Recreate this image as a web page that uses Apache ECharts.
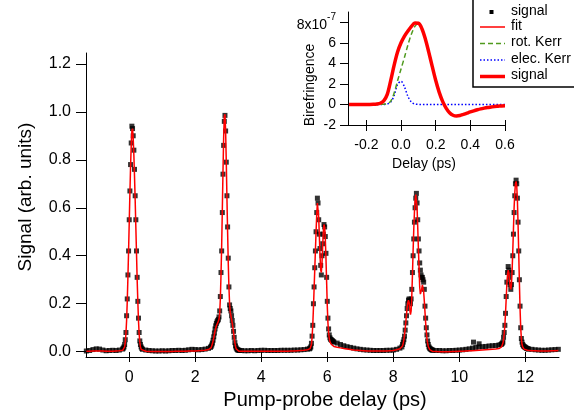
<!DOCTYPE html>
<html>
<head>
<meta charset="utf-8">
<script src="https://cdn.jsdelivr.net/npm/echarts@6/dist/echarts.min.js"></script>
<style>
html,body{margin:0;padding:0;background:#fff;}
#c{width:574px;height:417px;}
</style>
</head>
<body>
<div id="c"></div>
<script>
// ---------- main chart data (pump-probe delay in ps, signal in arb. units) ----------
const BASE_STEP = 0.1;   // sampling step of the flat stretches
const PEAK_STEP = 0.02;  // sampling step around the revivals

// measured signal (black squares)
const signalBase1Start = -1.3;
const signalBase1 = [0.003,0.005,0.009,0.012,0.011,0.007,0.004,0.005,0.006,0.005,0.007,0.011];
const signalPeak1Start = -0.18;
const signalPeak1 = [0.015,0.02,0.03,0.05,0.08,0.15,0.22,0.32,0.42,0.55,0.67,0.78,0.87,0.94,0.93,0.90,0.84,0.76,0.65,0.55,0.42,0.31,0.21,0.14,0.08,0.045,0.03,0.02,0.014,0.01];
const signalBase2Start = 0.5;
const signalBase2 = [0.007,0.005,0.004,0.003,0.003,0.004,0.003,0.004,0.005,0.005,0.006,0.005,0.006,0.008,0.01,0.009,0.008,0.009,0.011,0.014];
const signalPeak2Start = 2.46;
const signalPeak2 = [0.018,0.022,0.028,0.036,0.048,0.062,0.078,0.095,0.108,0.118,0.125,0.13,0.135,0.145,0.17,0.23,0.33,0.42,0.58,0.74,0.86,0.96,0.985,0.92,0.79,0.65,0.52,0.39,0.27,0.195,0.18,0.17,0.15,0.13,0.11,0.085,0.06,0.038,0.024,0.016,0.011,0.008,0.007,0.006,0.005];
const signalBase3Start = 3.4;
const signalBase3 = [0.005,0.004,0.004,0.005,0.004,0.005,0.006,0.006,0.005,0.005,0.005,0.005,0.006,0.006,0.006,0.006,0.007,0.007,0.008,0.009,0.011];
const signalPeak3Start = 5.46;
const signalPeak3 = [0.012,0.015,0.02,0.035,0.065,0.11,0.2,0.27,0.35,0.42,0.5,0.58,0.64,0.62,0.55,0.49,0.43,0.36,0.32,0.40,0.45,0.49,0.53,0.52,0.48,0.41,0.31,0.21,0.14,0.095,0.07,0.058,0.052,0.05,0.047,0.045,0.042,0.04];
const signalBase4Start = 6.3;
const signalBase4 = [0.036,0.03,0.025,0.021,0.018,0.015,0.012,0.01,0.008,0.007,0.006,0.005,0.005,0.005,0.005,0.006,0.006,0.007,0.01,0.015];
const signalPeak4Start = 8.26;
const signalPeak4 = [0.02,0.03,0.04,0.05,0.065,0.09,0.12,0.15,0.18,0.2,0.215,0.22,0.21,0.2,0.22,0.26,0.33,0.40,0.47,0.54,0.6,0.64,0.66,0.62,0.55,0.47,0.42,0.37,0.34,0.32,0.31,0.31,0.30,0.29,0.26,0.19,0.14,0.10,0.07,0.045,0.03,0.02,0.015,0.012,0.01,0.008,0.007,0.006];
const signalBase5Start = 9.3;
const signalBase5 = [0.005,0.005,0.004,0.004,0.005,0.005,0.006,0.007,0.008,0.01,0.012,0.015,0.018,0.02,0.021,0.022,0.024,0.025,0.026,0.028];
const signalOutliers = [[10.43,0.04],[10.6,0.033]];
const signalPeak5Start = 11.26;
const signalPeak5 = [0.03,0.032,0.035,0.04,0.06,0.08,0.11,0.16,0.23,0.29,0.33,0.355,0.34,0.31,0.28,0.26,0.28,0.33,0.40,0.49,0.58,0.65,0.70,0.715,0.70,0.64,0.54,0.42,0.30,0.19,0.10,0.055,0.04,0.03,0.025,0.022,0.02,0.018,0.016,0.014,0.013,0.012,0.011];
const signalBase6Start = 12.2;
const signalBase6 = [0.01,0.008,0.007,0.006,0.006,0.007,0.008,0.009,0.01];

// fit (red line), same delay grid
const fitBase1 = [0.002,0.002,0.003,0.003,0.003,0.003,0.002,0.002,0.002,0.003,0.004,0.006];
const fitPeak1 = [0.008,0.012,0.02,0.04,0.075,0.13,0.21,0.31,0.42,0.54,0.66,0.77,0.86,0.92,0.93,0.89,0.82,0.73,0.63,0.52,0.41,0.30,0.21,0.13,0.075,0.04,0.02,0.01,0.005,0.003];
const fitBase2 = [0.002,0.001,0.001,0.001,0.001,0.001,0.001,0.001,0.001,0.002,0.002,0.002,0.002,0.003,0.003,0.003,0.004,0.005,0.006,0.009];
const fitPeak2 = [0.012,0.017,0.024,0.033,0.045,0.058,0.072,0.086,0.098,0.108,0.115,0.12,0.125,0.135,0.16,0.22,0.32,0.44,0.59,0.75,0.89,0.98,0.99,0.92,0.79,0.64,0.5,0.37,0.27,0.2,0.165,0.15,0.135,0.12,0.1,0.08,0.058,0.038,0.022,0.012,0.007,0.004,0.003,0.002,0.002];
const fitBase3 = [0.002,0.002,0.002,0.002,0.002,0.002,0.002,0.002,0.002,0.002,0.002,0.002,0.002,0.002,0.002,0.003,0.003,0.004,0.005,0.006,0.008];
const fitPeak3 = [0.01,0.013,0.018,0.03,0.06,0.11,0.18,0.26,0.34,0.42,0.5,0.57,0.62,0.62,0.56,0.48,0.4,0.34,0.33,0.37,0.44,0.5,0.53,0.52,0.47,0.39,0.29,0.19,0.12,0.08,0.055,0.042,0.035,0.031,0.028,0.026,0.024,0.022];
const fitBase4 = [0.019,0.016,0.013,0.011,0.009,0.007,0.006,0.005,0.004,0.003,0.003,0.003,0.003,0.003,0.003,0.003,0.004,0.005,0.008,0.012];
const fitPeak4 = [0.016,0.024,0.035,0.05,0.07,0.095,0.125,0.155,0.185,0.205,0.215,0.205,0.175,0.155,0.17,0.23,0.32,0.42,0.51,0.58,0.63,0.655,0.65,0.6,0.52,0.43,0.35,0.27,0.24,0.24,0.26,0.278,0.275,0.25,0.21,0.165,0.12,0.085,0.055,0.035,0.022,0.014,0.009,0.006,0.004,0.003,0.002,0.002];
const fitBase5 = [0.001,0.0,0.0,0.0,0.0,0.001,0.001,0.002,0.002,0.003,0.004,0.004,0.005,0.006,0.007,0.008,0.009,0.01,0.011,0.013];
const fitPeak5 = [0.016,0.02,0.026,0.035,0.05,0.075,0.11,0.16,0.22,0.28,0.32,0.34,0.33,0.3,0.27,0.26,0.28,0.34,0.42,0.51,0.6,0.66,0.7,0.71,0.69,0.63,0.53,0.41,0.29,0.18,0.1,0.055,0.03,0.02,0.014,0.011,0.009,0.008,0.007,0.006,0.006,0.005,0.005];
const fitBase6 = [0.004,0.004,0.003,0.003,0.003,0.003,0.004,0.004,0.005];

const mainXTicks = [0,2,4,6,8,10,12];
const mainYTicks = [0,0.2,0.4,0.6,0.8,1.0,1.2];

// ---------- inset data (delay in ps, birefringence in 1e-7) ----------
const insetStart = -0.3;
const insetStep = 0.02;
const insetSignal = [0,0,0,0,0,0,0,0.01,0.04,0.12,0.35,0.95,2.3,3.8,5.1,6.0,6.65,7.15,7.6,7.92,7.9,7.4,6.4,5.1,3.7,2.35,1.2,0.3,-0.35,-0.8,-1.05,-1.12,-1.08,-0.97,-0.85,-0.73,-0.62,-0.52,-0.43,-0.36,-0.3,-0.25,-0.2,-0.17,-0.14,-0.12];
const insetRotKerr = [0,0,0,0,0,0,0,0,0,0.01,0.03,0.08,0.3,1.1,2.3,3.45,4.6,5.8,6.85,7.6,7.85,7.4,6.4,5.1,3.7,2.35,1.2,0.3,-0.35,-0.8,-1.05,-1.12,-1.08,-0.97,-0.85,-0.73,-0.62,-0.52,-0.43,-0.36,-0.3,-0.25,-0.2,-0.17,-0.14,-0.12];
const insetElecKerr = [0,0,0,0,0,0,0,0,0,0,0.005,0.04,0.22,0.85,1.95,2.25,1.7,0.78,0.22,0.04,0.005,0,0,0,0,0,0,0,0,0,0,0,0,0,0,0,0,0,0,0,0,0,0,0,0,0];
const insetXTicks = [-0.2,0,0.2,0.4,0.6];
const insetYTicks = [-2,0,2,4,6,8];

const legendLabels = ['signal','fit','rot. Kerr','elec. Kerr','signal'];

// ---------- helpers ----------
function seg(start, step, vals){ return vals.map((v,i)=>[+(start+i*step).toFixed(4), v]); }

const signalData = [].concat(
  seg(signalBase1Start, BASE_STEP, signalBase1),
  seg(signalPeak1Start, PEAK_STEP, signalPeak1),
  seg(signalBase2Start, BASE_STEP, signalBase2),
  seg(signalPeak2Start, PEAK_STEP, signalPeak2),
  seg(signalBase3Start, BASE_STEP, signalBase3),
  seg(signalPeak3Start, PEAK_STEP, signalPeak3),
  seg(signalBase4Start, BASE_STEP, signalBase4),
  seg(signalPeak4Start, PEAK_STEP, signalPeak4),
  seg(signalBase5Start, BASE_STEP, signalBase5),
  signalOutliers,
  seg(signalPeak5Start, PEAK_STEP, signalPeak5),
  seg(signalBase6Start, BASE_STEP, signalBase6)
);
const fitData = [].concat(
  seg(signalBase1Start, BASE_STEP, fitBase1),
  seg(signalPeak1Start, PEAK_STEP, fitPeak1),
  seg(signalBase2Start, BASE_STEP, fitBase2),
  seg(signalPeak2Start, PEAK_STEP, fitPeak2),
  seg(signalBase3Start, BASE_STEP, fitBase3),
  seg(signalPeak3Start, PEAK_STEP, fitPeak3),
  seg(signalBase4Start, BASE_STEP, fitBase4),
  seg(signalPeak4Start, PEAK_STEP, fitPeak4),
  seg(signalBase5Start, BASE_STEP, fitBase5),
  seg(signalPeak5Start, PEAK_STEP, fitPeak5),
  seg(signalBase6Start, BASE_STEP, fitBase6)
);

const FONT = '"Liberation Sans", Arial, Helvetica, sans-serif';
const chart = echarts.init(document.getElementById('c'), null, {renderer:'canvas'});

const axLine = {show:true, onZero:false, lineStyle:{color:'#000', width:1}};
const noLine = {show:false, onZero:false};
const tickStyle = {color:'#000', width:1};

const legendRowsY = [12, 27, 43.5, 60, 76.5];
const legendSamples = [
  {type:'rect', shape:{x:489.5, y:legendRowsY[0]-2, width:4, height:4}, style:{fill:'#000'}},
  {type:'line', shape:{x1:480, y1:legendRowsY[1], x2:505, y2:legendRowsY[1]}, style:{stroke:'#ff0000', lineWidth:1.5}},
  {type:'line', shape:{x1:480, y1:legendRowsY[2], x2:505, y2:legendRowsY[2]}, style:{stroke:'#4f9a1e', lineWidth:1.5, lineDash:[5,3]}},
  {type:'line', shape:{x1:480, y1:legendRowsY[3], x2:505, y2:legendRowsY[3]}, style:{stroke:'#0000ff', lineWidth:1.5, lineDash:[1.5,2]}},
  {type:'line', shape:{x1:480, y1:legendRowsY[4], x2:505, y2:legendRowsY[4]}, style:{stroke:'#ff0000', lineWidth:3.5}}
];
const legendTexts = legendLabels.map((t,i)=>({
  type:'text', left:511, top:legendRowsY[i]-8,
  style:{text:t, font:'14px ' + FONT, fill:'#000'}
}));

const option = {
  animation:false,
  backgroundColor:'#fff',
  textStyle:{fontFamily:FONT, color:'#000'},
  grid:[
    {left:86, right:15, top:53, bottom:60},
    {left:348, right:69, top:12, bottom:292}
  ],
  xAxis:[
    {gridIndex:0, type:'value', min:-1.31, max:13.02, position:'bottom',
     axisLine:axLine, splitLine:{show:false},
     axisTick:{show:true, inside:false, length:5, lineStyle:tickStyle, customValues:mainXTicks},
     axisLabel:{show:true, customValues:mainXTicks, fontSize:16, color:'#000', margin:13, fontFamily:FONT},
     name:'Pump-probe delay (ps)', nameLocation:'middle', nameGap:33, nameMoveOverlap:false,
     nameTextStyle:{fontSize:20, color:'#000', fontFamily:FONT, padding:[0,0,0,5]}},
    {gridIndex:0, type:'value', min:-1.31, max:13.02, position:'bottom',
     axisLine:noLine, splitLine:{show:false}, axisLabel:{show:false},
     axisTick:{show:true, inside:true, length:5, lineStyle:tickStyle, customValues:mainXTicks}},
    {gridIndex:1, type:'value', min:-0.306, max:0.6, position:'bottom',
     axisLine:axLine, splitLine:{show:false},
     axisTick:{show:true, inside:false, length:6, lineStyle:tickStyle, customValues:insetXTicks},
     axisLabel:{show:true, customValues:insetXTicks, fontSize:14, color:'#000', margin:13, fontFamily:FONT,
       formatter:v=>(+v).toFixed(1)},
     name:'Delay (ps)', nameLocation:'middle', nameGap:32, nameMoveOverlap:false,
     nameTextStyle:{fontSize:14, color:'#000', fontFamily:FONT, padding:[0,5,0,0]}},
    {gridIndex:1, type:'value', min:-0.306, max:0.6, position:'bottom',
     axisLine:noLine, splitLine:{show:false}, axisLabel:{show:false},
     axisTick:{show:true, inside:true, length:5, lineStyle:tickStyle, customValues:insetXTicks}}
  ],
  yAxis:[
    {gridIndex:0, type:'value', min:-0.022, max:1.245, position:'left',
     axisLine:axLine, splitLine:{show:false},
     axisTick:{show:true, inside:false, length:10, lineStyle:tickStyle, customValues:mainYTicks},
     axisLabel:{show:true, customValues:mainYTicks, fontSize:16, color:'#000', margin:15, fontFamily:FONT,
       formatter:v=>(+v).toFixed(1)},
     name:'Signal (arb. units)', nameLocation:'middle', nameGap:51, nameMoveOverlap:false,
     nameTextStyle:{fontSize:19, color:'#000', fontFamily:FONT, padding:[0,0,0,16]}},
    {gridIndex:1, type:'value', min:-2, max:9, position:'left',
     axisLine:axLine, splitLine:{show:false},
     axisTick:{show:true, inside:false, length:8, lineStyle:tickStyle, customValues:insetYTicks},
     axisLabel:{show:true, customValues:insetYTicks, fontSize:14, color:'#000', margin:12, fontFamily:FONT,
       formatter:v=> (+v===8 ? '{b|8x10}{s|-7}' : String(+v)),
       rich:{b:{fontSize:14, fontFamily:FONT, color:'#000', lineHeight:20, verticalAlign:'bottom'},
             s:{fontSize:10, fontFamily:FONT, color:'#000', lineHeight:12, verticalAlign:'top'}}},
     name:'Birefringence', nameLocation:'middle', nameGap:31, nameMoveOverlap:false,
     nameTextStyle:{fontSize:14, color:'#000', fontFamily:FONT, padding:[0,33,0,0]}}
  ],
  series:[
    {type:'scatter', name:'signal', xAxisIndex:0, yAxisIndex:0, symbol:'rect', symbolSize:5,
     itemStyle:{color:'#000'}, data:signalData, silent:true, z:2},
    {type:'line', name:'fit', xAxisIndex:0, yAxisIndex:0, showSymbol:false, symbol:'none',
     lineStyle:{color:'#ff0000', width:1.5}, data:fitData, silent:true, z:3},
    {type:'line', name:'elec. Kerr', xAxisIndex:2, yAxisIndex:1, showSymbol:false, symbol:'none', smooth:0.3,
     lineStyle:{color:'#0000ff', width:1.5, type:[1.5,2]}, data:seg(insetStart, insetStep, insetElecKerr), silent:true, z:2},
    {type:'line', name:'rot. Kerr', xAxisIndex:2, yAxisIndex:1, showSymbol:false, symbol:'none', smooth:0.3,
     lineStyle:{color:'#4f9a1e', width:1.5, type:[5,3]}, data:seg(insetStart, insetStep, insetRotKerr), silent:true, z:3},
    {type:'line', name:'signal ', xAxisIndex:2, yAxisIndex:1, showSymbol:false, symbol:'none', smooth:0.3,
     lineStyle:{color:'#ff0000', width:3.5}, data:seg(insetStart, insetStep, insetSignal), silent:true, z:4}
  ],
  graphic:[
    {type:'rect', shape:{x:473, y:-3, width:110, height:90}, style:{fill:'#fff', stroke:'#000', lineWidth:1.5}, z:10},
    ...legendSamples.map(g=>Object.assign({z:11}, g)),
    ...legendTexts.map(g=>Object.assign({z:11}, g))
  ]
};
chart.setOption(option);
</script>
</body>
</html>
